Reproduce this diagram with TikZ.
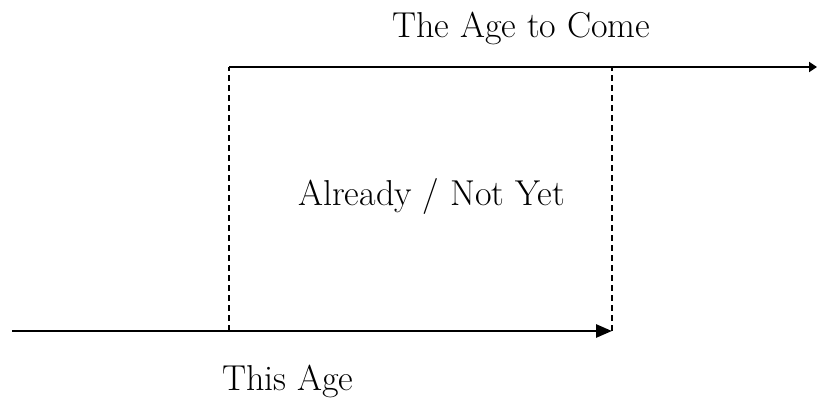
\documentclass[tikz,border=0pt]{standalone}
\usepackage{tikz}
\usetikzlibrary{arrows.meta}

\begin{document}
\begin{tikzpicture}[
  x=1pt, y=-1pt,
  font=\fontsize{36}{42}\selectfont,
  era/.style={-{Triangle[length=16pt, width=13pt]}, line width=2.8pt},
  overlap/.style={dash pattern=on 6pt off 4pt, line width=1.6pt},
  caption/.style={anchor=base west, inner sep=0pt},
]
\useasboundingbox (0,0) rectangle (817,405);

% Key points on the two time lines.
\coordinate (past) at (12,331);
\coordinate (advent) at (229,331);
\coordinate (parousia) at (612,331);
\coordinate (adventtop) at (229,67);
\coordinate (parousiatop) at (612,67);
\coordinate (future) at (817,67);

% This age, ending at the second coming.
\draw[era] (past) -- (parousia);

% The age to come, starting at the first coming.
\draw[era, line width=2.2pt, -{Triangle[length=8pt, width=10pt]}]
  (adventtop) -- (future);

% Overlap of the two ages.
\draw[overlap] (advent) -- (adventtop);
\draw[overlap] (parousia) -- (parousiatop);

% Labels.
\node[caption] (agetocome) at (392,37) {The Age to Come};
\node[caption] (between) at (298,205) {Already / Not Yet};
\node[caption] (thisage) at (222,390) {This Age};

\end{tikzpicture}
\end{document}
